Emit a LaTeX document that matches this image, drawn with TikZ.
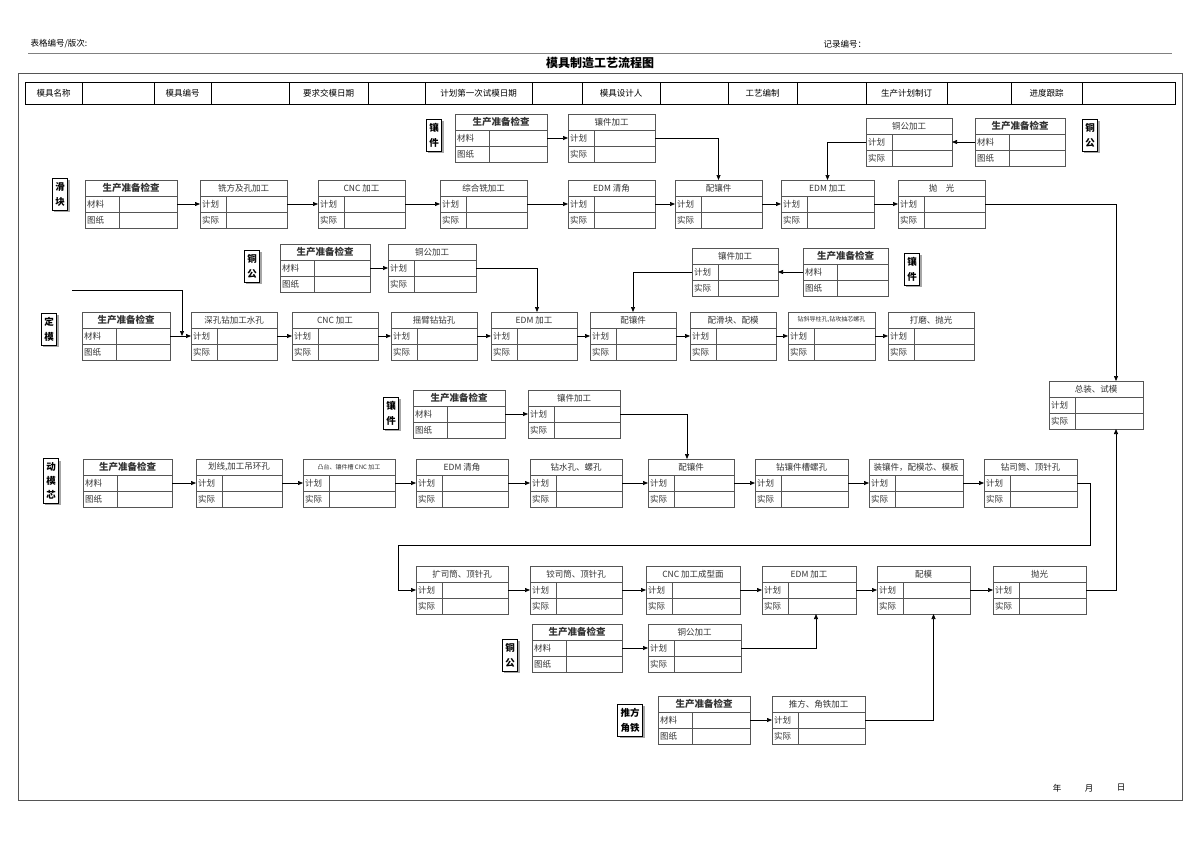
\documentclass[tikz,border=0pt]{standalone}
\usepackage{fontspec}
\setmainfont{Noto Sans CJK SC}
\usetikzlibrary{arrows.meta,shadows,calc}
\definecolor{bc}{HTML}{555555}
\definecolor{tc}{HTML}{333333}
\tikzset{
 cell/.style={draw=bc,line width=0.7pt,minimum height=16pt,inner sep=0pt,outer sep=0pt,text=tc,font=\fontsize{8.5}{10}\selectfont},
 rowlab/.style={anchor=west,inner sep=2pt,text=tc,font=\fontsize{8.5}{10}\selectfont},
 lab/.style={draw=black,line width=0.7pt,fill=white,align=center,inner xsep=3pt,inner ysep=4pt,font=\bfseries\fontsize{9.5}{15}\selectfont,drop shadow={shadow xshift=2pt,shadow yshift=-2pt,fill=gray!70,opacity=1}},
 arr/.style={draw=black,line width=0.7pt,-{Triangle[length=5pt,width=4pt]}},
 ln/.style={draw=black,line width=0.7pt},
 hdr/.style={font=\fontsize{8.5}{10}\selectfont},
}
% name x y w leftcol title row2 row3
\newcommand\rowbox[8]{%
 \node[cell,minimum width=#4pt,anchor=north west] (#1-t) at (#2,#3) {#6};
 \node[cell,minimum width=#4pt,anchor=north] (#1-p) at (#1-t.south) {};
 \node[cell,minimum width=#4pt,anchor=north] (#1-r) at (#1-p.south) {};
 \node[rowlab] at (#1-p.west) {#7};
 \node[rowlab] at (#1-r.west) {#8};
 \draw[bc,line width=0.7pt] ([xshift=#5pt]#1-p.north west) -- ([xshift=#5pt]#1-r.south west);
}
\newcommand\proc[5]{\rowbox{#1}{#2}{#3}{#4}{26}{#5}{计划}{实际}}
\newcommand\prep[4]{\rowbox{#1}{#2}{#3}{#4}{34}{\bfseries\fontsize{9.5}{10}\selectfont 生产准备检查}{材料}{图纸}}
\begin{document}
\begin{tikzpicture}[x=1pt,y=-1pt]
\useasboundingbox (0,0) rectangle (1200,849);
\fill[white] (0,0) rectangle (1200,849);
% header
\node[hdr,anchor=west] (fno) at (27,44) {表格编号/版次:};
\node[hdr,anchor=west] (rno) at (820,44) {记录编号：};
\draw[gray,line width=0.8pt] (28,53) -- (1172,53);
\node[font=\bfseries\fontsize{12}{14}\selectfont] (title) at (600,63) {模具制造工艺流程图};
\draw[bc,line width=0.9pt] (18,73) rectangle (1182,800);
\draw[black,line width=0.7pt] (25,82) rectangle (1175,104);
\foreach \x in {82,154,211,289,368,425,532,582,660,728,797,866,947,1011,1082}
  \draw[black,line width=0.6pt] (\x,82) -- (\x,104);
\foreach \a/\b/\t in {25/82/模具名称,154/211/模具编号,289/368/要求交模日期,425/532/计划第一次试模日期,582/660/模具设计人,728/797/工艺编制,866/947/生产计划制订,1011/1082/进度跟踪}
  \node[hdr] at ({(\a+\b)/2},93) {\t};
% slider row
\node[lab] (Ls) at (60,194) {滑\\块};
\prep{s0}{85}{180}{92}
\proc{s1}{200}{180}{87}{铣方及孔加工}
\proc{s2}{318}{180}{87}{CNC 加工}
\proc{s3}{440}{180}{87}{综合铣加工}
\proc{s4}{568}{180}{87}{EDM 清角}
\proc{s5}{675}{180}{87}{配镶件}
\proc{s6}{781}{180}{93}{EDM 加工}
\proc{s7}{898}{180}{87}{抛\quad 光}
\foreach \a/\b in {s0/s1,s1/s2,s2/s3,s3/s4,s4/s5,s5/s6,s6/s7}
  \draw[arr] (\a-p.east) -- (\b-p.west);
% top insert
\node[lab] (Lti) at (434,135) {镶\\件};
\prep{tp}{455}{114}{92}
\proc{tb}{568}{114}{87}{镶件加工}
\draw[arr] (tp-p.east) -- (tb-p.west);
\draw[arr] (tb-p.east) -| (s5-t.north);
% top copper
\node[lab] (Ltc) at (1090,135) {铜\\公};
\prep{tcp}{975}{118}{90}
\proc{tc}{866}{118}{86}{铜公加工}
\draw[arr] (tcp-p.west) -- (tc-p.east);
\draw[arr] (tc-p.west) -| (s6-t.north);
% assembly
\proc{z}{1049}{381}{94}{总装、试模}
\draw[arr] (s7-p.east) -| ([xshift=20pt]z-t.north);
% fixed mould row
\node[lab] (Ld) at (49,329) {定\\模};
\prep{d0}{82}{312}{88}
\proc{d1}{191}{312}{86}{深孔钻加工水孔}
\proc{d2}{292}{312}{86}{CNC 加工}
\proc{d3}{391}{312}{86}{摇臂钻钻孔}
\proc{d4}{491}{312}{86}{EDM 加工}
\proc{d5}{590}{312}{86}{配镶件}
\proc{d6}{690}{312}{86}{配滑块、配模}
\proc{d7}{788}{312}{87}{\fontsize{6}{7}\selectfont 钻斜导柱孔,钻攻抽芯螺孔}
\proc{d8}{888}{312}{86}{打磨、抛光}
\foreach \a/\b in {d0/d1,d1/d2,d2/d3,d3/d4,d4/d5,d5/d6,d6/d7,d7/d8}
  \draw[arr] (\a-p.east) -- (\b-p.west);
\coordinate (din) at (72,290);
\coordinate (dj) at ([xshift=-9pt]d1-p.west);
\draw[arr] (din) -| (dj);
% mid copper
\node[lab] (Lmc) at (252,266) {铜\\公};
\prep{mcp}{280}{244}{90}
\proc{mc}{388}{244}{88}{铜公加工}
\draw[arr] (mcp-p.east) -- (mc-p.west);
\draw[arr] (mc-p.east) -| ([xshift=3pt]d4-t.north);
% mid insert
\node[lab] (Lmx) at (912,269) {镶\\件};
\prep{mxp}{803}{248}{85}
\proc{mx}{692}{248}{86}{镶件加工}
\draw[arr] (mxp-p.west) -- (mx-p.east);
\draw[arr] (mx-p.west) -| (d5-t.north);
% moving core row
\node[lab,font=\bfseries\fontsize{9.5}{14}\selectfont] (Lm) at (51,481) {动\\模\\芯};
\prep{m0}{83}{459}{89}
\proc{m1}{196}{459}{86}{划线,加工吊环孔}
\proc{m2}{303}{459}{92}{\fontsize{6}{7}\selectfont 凸台、镶件槽 CNC 加工}
\proc{m3}{416}{459}{92}{EDM 清角}
\proc{m4}{530}{459}{92}{钻水孔、螺孔}
\proc{m5}{648}{459}{86}{配镶件}
\proc{m6}{755}{459}{93}{钻镶件槽螺孔}
\proc{m7}{869}{459}{94}{装镶件，配模芯、模板}
\proc{m8}{984}{459}{93}{钻司筒、顶针孔}
\foreach \a/\b in {m0/m1,m1/m2,m2/m3,m3/m4,m4/m5,m5/m6,m6/m7,m7/m8}
  \draw[arr] (\a-p.east) -- (\b-p.west);
\node[lab] (Lbx) at (391,413) {镶\\件};
\prep{bxp}{413}{390}{92}
\proc{bx}{528}{390}{92}{镶件加工}
\draw[arr] (bxp-p.east) -- (bx-p.west);
\draw[arr] (bx-p.east) -| ([xshift=-4pt]m5-t.north);
% bottom row
\proc{b1}{416}{566}{92}{扩司筒、顶针孔}
\proc{b2}{530}{566}{92}{铰司筒、顶针孔}
\proc{b3}{646}{566}{94}{CNC 加工成型面}
\proc{b4}{762}{566}{94}{EDM 加工}
\proc{b5}{877}{566}{93}{配模}
\proc{b6}{993}{566}{93}{抛光}
\foreach \a/\b in {b1/b2,b2/b3,b3/b4,b4/b5,b5/b6}
  \draw[arr] (\a-p.east) -- (\b-p.west);
\coordinate (w1) at (1090,545);
\coordinate (w2) at (398,545);
\draw[arr] (m8-p.east) -| (w1) -- (w2) |- (b1-p.west);
\draw[arr] (b6-p.east) -| ([xshift=20pt]z-r.south);
% bottom copper
\node[lab] (Lbc) at (510,655) {铜\\公};
\prep{bcp}{532}{624}{90}
\proc{bc}{648}{624}{93}{铜公加工}
\draw[arr] (bcp-p.east) -- (bc-p.west);
\draw[arr] (bc-p.east) -| ([xshift=7pt]b4-r.south);
% push block
\node[lab] (Lpf) at (630,720) {推方\\角铁};
\prep{pfp}{658}{696}{92}
\proc{pf}{772}{696}{93}{推方、角铁加工}
\draw[arr] (pfp-p.east) -- (pf-p.west);
\draw[arr] (pf-p.east) -| ([xshift=10pt]b5-r.south);
% date
\node[hdr] (yr) at (1057,788) {年};
\node[hdr] (mo) at (1089,788) {月};
\node[hdr] (dy) at (1121,788) {日};
\end{tikzpicture}
\end{document}
